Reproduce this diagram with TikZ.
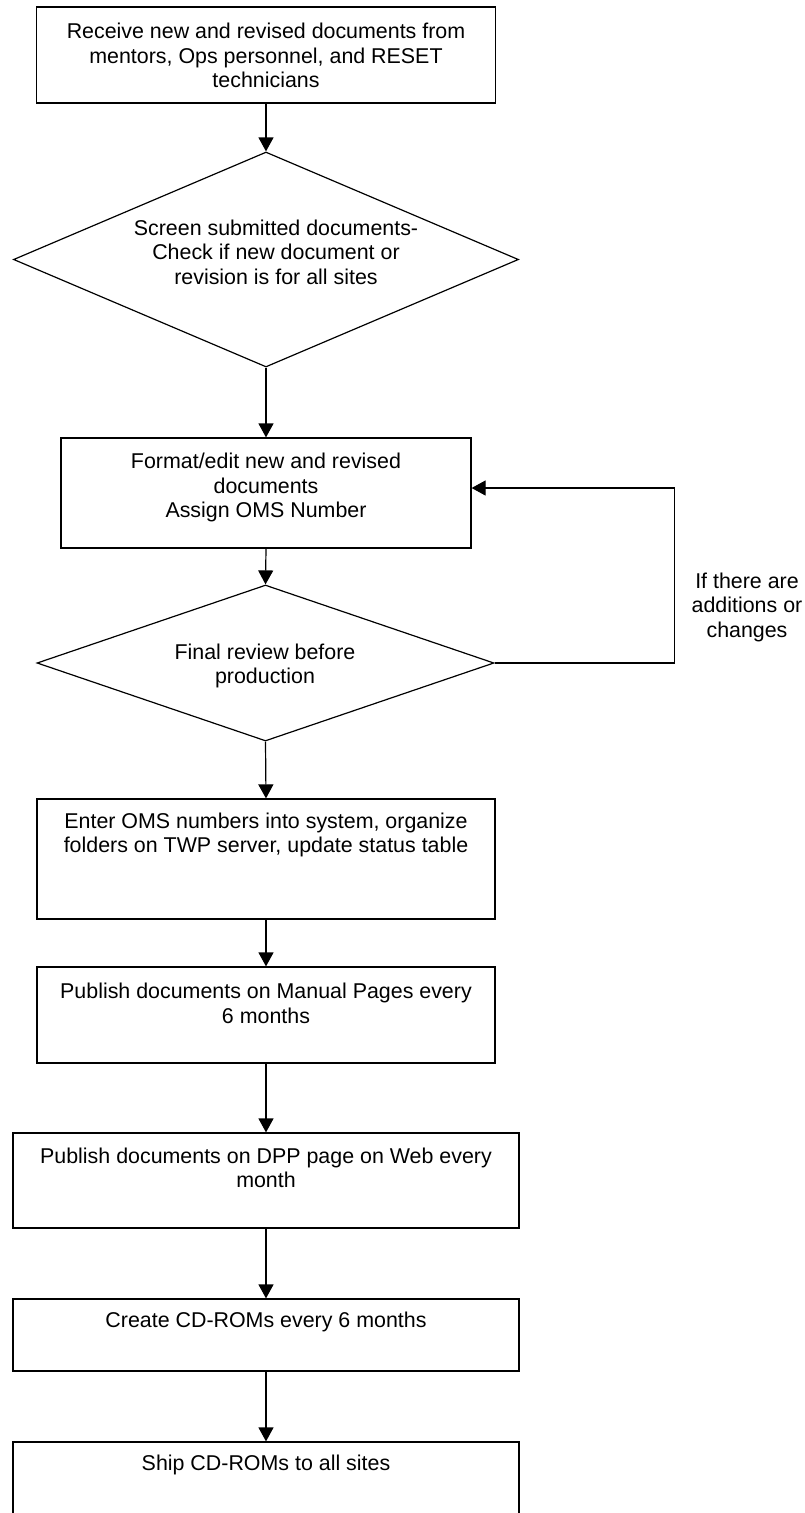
\documentclass[tikz,border=0pt]{standalone}
\usepackage{fontspec}
\setmainfont{Liberation Sans}
\usetikzlibrary{shapes.geometric,arrows.meta,positioning}

\begin{document}
\begin{tikzpicture}[x=1pt, y=-1pt,
    box/.style={draw, line width=1.2pt, inner sep=0pt},
    decision/.style={draw, diamond, line width=1.2pt, inner sep=0pt},
    txt/.style={font=\fontsize{21.4}{24.5}\selectfont, align=center, inner sep=0pt},
    arr/.style={-{Triangle[length=14pt,width=15pt]}, line width=1.2pt}
  ]
    \useasboundingbox (0,0) rectangle (804,1513);
    \clip (0,0) rectangle (804,1513);

    % Intake and screening
    \node[box, minimum width=459pt, minimum height=96pt] (b1) at (266,55) {};
    \node[txt] (tb1) at (266,55.5) {Receive new and revised documents from\\mentors, Ops personnel, and RESET\\technicians};
    \node[decision, minimum width=505pt, minimum height=215pt] (d1) at (266,259.5) {};
    \node[txt] (td1) at (276,252) {Screen submitted documents-\\Check if new document or\\revision is for all sites};

    % Editing and review loop
    \node[box, minimum width=410pt, minimum height=110pt] (b2) at (266,493) {};
    \node[txt] (tb2) at (266,487.5) {Format/edit new and revised\\documents\\Assign OMS Number};
    \node[decision, minimum width=457pt, minimum height=156pt] (d2) at (265.5,663) {};
    \node[txt] (td2) at (265,666) {Final review before\\production};
    \node[txt] (loop) at (747,607) {If there are\\additions or\\changes};

    % Production and distribution
    \node[box, minimum width=458pt, minimum height=120pt] (b3) at (266,859) {};
    \node[txt] (tb3) at (266,835) {Enter OMS numbers into system, organize\\folders on TWP server, update status table};
    \node[box, minimum width=458pt, minimum height=96pt] (b4) at (266,1015) {};
    \node[txt] (tb4) at (266,1003.5) {Publish documents on Manual Pages every\\6 months};
    \node[box, minimum width=506pt, minimum height=95pt] (b5) at (266,1180.5) {};
    \node[txt] (tb5) at (266,1168) {Publish documents on DPP page on Web every\\month};
    \node[box, minimum width=506pt, minimum height=72pt] (b6) at (266,1335) {};
    \node[txt] (tb6) at (266,1322) {Create CD-ROMs every 6 months};
    \node[box, minimum width=506pt, minimum height=98pt] (b7) at (266,1491) {};
    \node[txt] (tb7) at (266,1465) {Ship CD-ROMs to all sites};

    % Connectors
    \draw[arr] (b1.south) -- (d1.north);
    \draw[arr] (d1.south) -- (b2.north);
    \draw[arr] (b2.south) -- (d2.north);
    \draw[arr] (d2.south) -- (b3.north);
    \draw[arr] (d2.east) -- ++(180,0) |- ([yshift=5pt]b2.east);
    \draw[arr] (b3.south) -- (b4.north);
    \draw[arr] (b4.south) -- (b5.north);
    \draw[arr] (b5.south) -- (b6.north);
    \draw[arr] (b6.south) -- (b7.north);

\end{tikzpicture}
\end{document}
